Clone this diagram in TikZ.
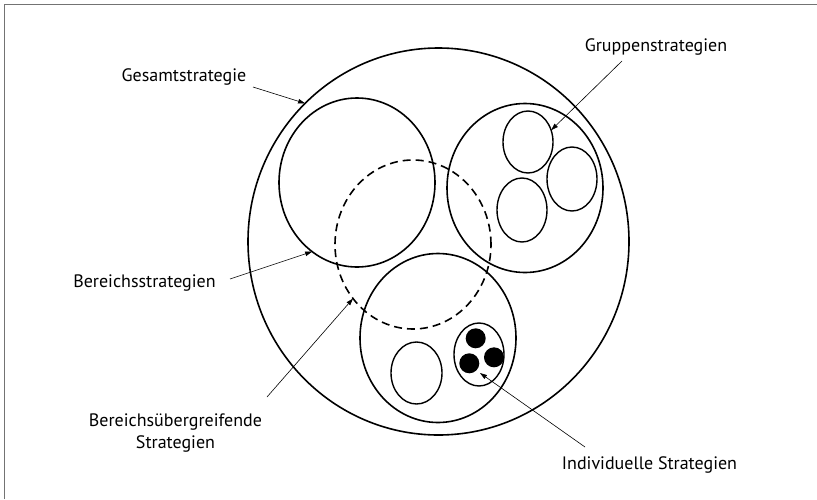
\documentclass[tikz,border=0pt]{standalone}
\usepackage{fontspec}
\setmainfont{PT Sans}
\usetikzlibrary{shapes.geometric,arrows.meta}
\begin{document}
\begin{tikzpicture}[x=1pt,y=-1pt,
  ring/.style={ellipse, draw, line width=1.6pt, inner sep=0pt, outer sep=0pt},
  big/.style={ring, minimum width=156pt, minimum height=169pt},
  small/.style={ring, line width=1.4pt, minimum width=50pt, minimum height=62pt},
  dot/.style={circle, fill=black, inner sep=0pt, minimum size=20pt},
  lbl/.style={font=\fontsize{18}{22}\selectfont, inner sep=0pt},
  arr/.style={-{Triangle[length=7pt,width=4.5pt]}, line width=0.6pt},
  frame/.style={draw=black!55, line width=1.5pt}
]
\useasboundingbox (0,0) rectangle (817,499);
\draw[frame] (4.5,499) |- (817,4.5);

% containers
\node[ring, minimum width=381pt, minimum height=387pt] (outer) at (438.5,241.5) {};
\node[big] (tl) at (357,182.5) {};
\node[big] (gr) at (525,188) {};
\node[big, dash pattern=on 8pt off 5pt] (da) at (413,244.5) {};
\node[big] (bo) at (438,338) {};

% group strategies
\node[small] (g1) at (528,142) {};
\node[small, minimum height=64pt] (g2) at (572,179) {};
\node[small, minimum height=64pt] (g3) at (522,210) {};

% bottom area
\node[small, minimum width=51pt] (b1) at (416.5,373) {};
\node[small, minimum height=63pt] (b2) at (479,354.5) {};
\node[dot] (d1) at (475.7,338.3) {};
\node[dot] (d2) at (494,357.3) {};
\node[dot] (d3) at (469.3,363.3) {};

% labels
\node[lbl] (gesamt) at (184,77) {Gesamtstrategie};
\node[lbl] (gruppen) at (656,47) {Gruppenstrategien};
\node[lbl] (bereich) at (144.5,283) {Bereichsstrategien};
\node[lbl, align=center] (ueber) at (175.5,433) {Bereichsübergreifende\\Strategien};
\node[lbl] (indiv) at (649.5,465) {Individuelle Strategien};

% arrow start points
\coordinate (gs) at (253,87);
\coordinate (grs) at (622,61);
\coordinate (bs) at (230,279);
\coordinate (us) at (267,397);
\coordinate (is) at (585,447);
\coordinate (itip) at (480,373);

\draw[arr] (gs) -- (outer.134.6);
\draw[arr] (grs) -- (g1.27);
\draw[arr] (bs) -- (tl.237);
\draw[arr] (us) -- (da.222.2);
\draw[arr] (is) -- (itip);
\end{tikzpicture}
\end{document}
